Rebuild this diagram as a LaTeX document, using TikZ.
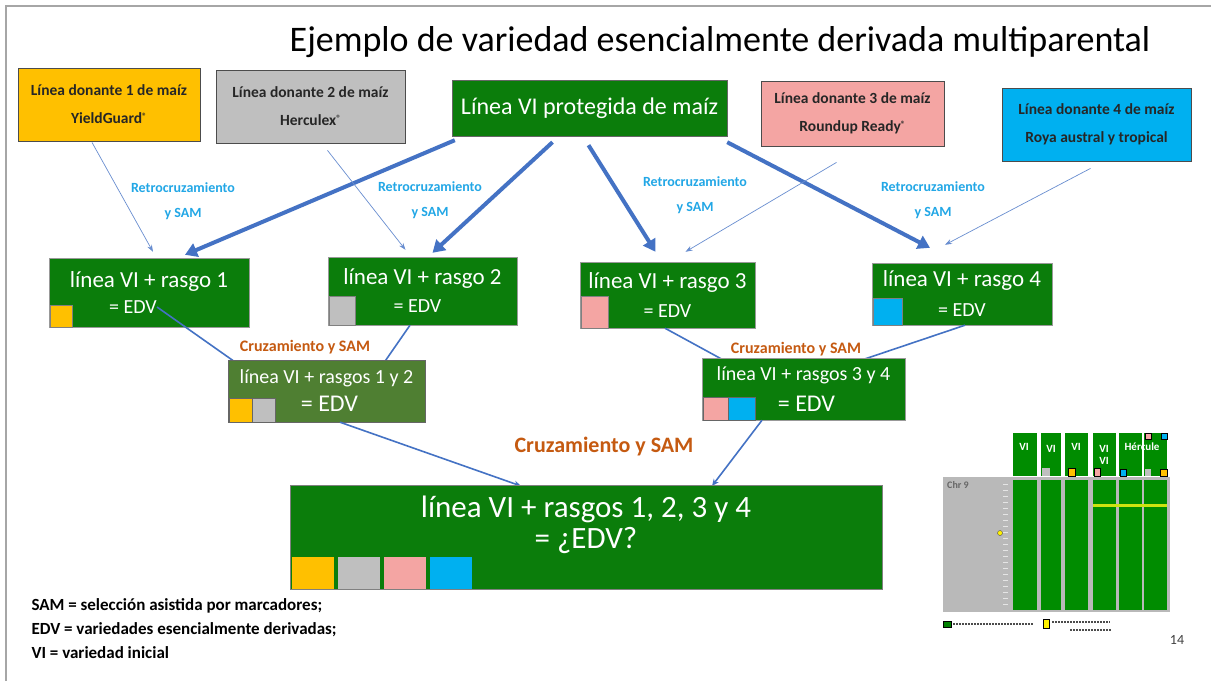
\documentclass[tikz,border=0pt]{standalone}
\usepackage{fontspec}
\setmainfont{Carlito}
\usetikzlibrary{arrows.meta}

\definecolor{donoryellow}{HTML}{FFC000}
\definecolor{donorgray}{HTML}{BFBFBF}
\definecolor{donorpink}{HTML}{F4A5A3}
\definecolor{donorblue}{HTML}{00B0F0}
\definecolor{vigreen}{HTML}{0B7D0B}
\definecolor{olivegreen}{HTML}{4F7F32}
\definecolor{arrowblue}{HTML}{4472C4}
\definecolor{labelblue}{HTML}{22A7E6}
\definecolor{crossorange}{HTML}{C55A11}

\newcommand{\regmark}{\raisebox{4pt}{\fontsize{9}{9}\selectfont ®}}

\begin{document}
\begin{tikzpicture}[x=1pt,y=-1pt]
\tikzstyle{donor} = [rectangle, draw=black!70, thick, text=black!85, align=center,
font=\bfseries\fontsize{15.5}{28}\selectfont, inner sep=0pt]
\tikzstyle{trait} = [rectangle, draw=black!40, fill=vigreen, text=white, align=center,
inner sep=0pt]
\tikzstyle{whitetext} = [text=white, align=center, inner sep=0pt]
\tikzstyle{big} = [draw=arrowblue, line width=4pt, -{Triangle[length=12pt,width=14pt]}]
\tikzstyle{thin} = [draw=arrowblue!80, line width=0.7pt, -{Stealth[length=7pt,width=5pt]}]
\tikzstyle{cross} = [draw=arrowblue, line width=1.6pt]
\tikzstyle{backlabel} = [text=labelblue, align=center, font=\bfseries\fontsize{14}{25}\selectfont]
\tikzstyle{crosslabel} = [text=crossorange, font=\bfseries\fontsize{16}{18}\selectfont]
\useasboundingbox (0,0) rectangle (1211,681);
\fill[white] (0,0) rectangle (1211,681);
\draw[gray!70, line width=1.5pt] (6,681) -- (6,6) -- (1211,6);

\node (title) at (720,42) {\fontsize{36}{40}\selectfont Ejemplo de variedad esencialmente derivada multiparental};

% row 1: donantes y linea VI
\node[donor, fill=donoryellow, minimum width=182pt, minimum height=73pt] (d1) at (109,104.5)
{Línea donante 1 de maíz\\YieldGuard\regmark};
\node[donor, fill=donorgray, minimum width=189pt, minimum height=73pt] (d2) at (310.5,106.5)
{Línea donante 2 de maíz\\Herculex\regmark};
\node[trait, draw=black!60, minimum width=275pt, minimum height=56pt,
font=\fontsize{24}{26}\selectfont] (vi) at (589.5,108) {Línea VI protegida de maíz};
\node[donor, fill=donorpink, minimum width=183pt, minimum height=65pt] (d3) at (852.5,113.5)
{Línea donante 3 de maíz\\Roundup Ready\regmark};
\node[donor, fill=donorblue, minimum width=189pt, minimum height=73pt] (d4) at (1096.5,124.5)
{Línea donante 4 de maíz\\Roya austral y tropical};

% retrocruzamiento
\node[backlabel] (lbA) at (183,201) {Retrocruzamiento\\y SAM};
\node[backlabel] (lbB) at (430,200) {Retrocruzamiento\\y SAM};
\node[backlabel] (lbC) at (695,195) {Retrocruzamiento\\y SAM};
\node[backlabel] (lbD) at (933,200) {Retrocruzamiento\\y SAM};

% row 2: linea VI + rasgo
\node[trait, minimum width=200pt, minimum height=69pt, font=\fontsize{23}{26}\selectfont] (t1)
at (149,292.5) {línea VI + rasgo 1\\\fontsize{20}{20}\selectfont\hspace*{-32pt}= EDV};
\node[trait, minimum width=189pt, minimum height=68pt, font=\fontsize{23}{28}\selectfont] (t2)
at (422.5,291) {línea VI + rasgo 2\\\fontsize{20}{20}\selectfont\hspace*{-10pt}= EDV};
\node[trait, minimum width=175pt, minimum height=66pt, font=\fontsize{23}{29}\selectfont] (t3)
at (667.5,295) {línea VI + rasgo 3\\\fontsize{20}{20}\selectfont = EDV};
\node[trait, minimum width=180pt, minimum height=62pt, font=\fontsize{23}{30}\selectfont] (t4)
at (962,294) {línea VI + rasgo 4\\\fontsize{20}{20}\selectfont = EDV};
\fill[donoryellow, draw=black!50] ([shift={(1,0)}]t1.south west) rectangle +(22,-22);
\fill[donorgray, draw=black!50] ([shift={(1,0)}]t2.south west) rectangle +(26,-29);
\fill[donorpink, draw=black!50] ([shift={(1,0)}]t3.south west) rectangle +(27,-32);
\fill[donorblue, draw=black!50] ([shift={(1,0)}]t4.south west) rectangle +(29,-27);

% flechas de retrocruzamiento
\draw[big] ([shift={(3,4)}]vi.south west) -- ([shift={(36,-3)}]t1.north);
\draw[big] ([shift={(-37,6)}]vi.south) -- ([shift={(10,-4)}]t2.north);
\draw[big] ([shift={(-1,9)}]vi.south) -- ([shift={(-12,-10)}]t3.north);
\draw[big] ([shift={(0,6)}]vi.south east) -- ([shift={(-32,-15)}]t4.north);
\draw[thin] ([shift={(-17,1)}]d1.south) -- ([shift={(4,-6)}]t1.north);
\draw[thin] ([shift={(17,7)}]d2.south) -- ([shift={(-17,-7)}]t2.north);
\draw[thin] ([shift={(-16,16)}]d3.south) -- ([shift={(18,-10)}]t3.north);
\draw[thin] ([shift={(-6,7)}]d4.south) -- ([shift={(-17,-18)}]t4.north);

% cruzamientos
\draw[cross] ([shift={(8,14.5)}]t1.center) -- (262,381);
\draw[cross] ([shift={(-12.5,0)}]t2.south) -- (372,380);
\draw[cross] ([shift={(-2.5,0)}]t3.south) -- (760,380);
\draw[cross] ([shift={(3,0)}]t4.south) -- (838,368);
\node[crosslabel] (lbE) at (305,347) {Cruzamiento y SAM};
\node[crosslabel] (lbF) at (796,349) {Cruzamiento y SAM};

% row 3: rasgos combinados
\node[trait, fill=olivegreen, draw=black!60, minimum width=197pt, minimum height=62pt,
font=\fontsize{20}{28}\selectfont] (m12) at (326.5,391)
{línea VI + rasgos 1 y 2\\\fontsize{24}{24}\selectfont\hspace*{6pt}= EDV};
\node[trait, minimum width=203pt, minimum height=62pt,
font=\fontsize{20}{31}\selectfont] (m34) at (803.5,389)
{línea VI + rasgos 3 y 4\\\fontsize{24}{24}\selectfont\hspace*{6pt}= EDV};
\fill[donoryellow, draw=black!60] ([shift={(1,0)}]m12.south west) rectangle +(23,-24);
\fill[donorgray, draw=black!60] ([shift={(24,0)}]m12.south west) rectangle +(23,-24);
\fill[donorpink, draw=black!60] ([shift={(1,0)}]m34.south west) rectangle +(25,-23);
\fill[donorblue, draw=black!60] ([shift={(26,0)}]m34.south west) rectangle +(27,-23);

\draw[cross, -{Stealth[length=7pt,width=6pt]}] ([shift={(13.5,0)}]m12.south) -- (521,486);
\draw[cross, -{Stealth[length=7pt,width=6pt]}] ([shift={(-41.5,0)}]m34.south) -- (712,486);
\node[crosslabel, font=\bfseries\fontsize{22}{24}\selectfont] (lbG) at (604,447) {Cruzamiento y SAM};

% row 4: resultado
\node[trait, draw=black!50, minimum width=592pt, minimum height=104pt] (fin) at (586,537) {};
\node[whitetext, font=\fontsize{31}{31}\selectfont] (fintxt) at ([shift={(0,-12)}]fin.center)
{línea VI + rasgos 1, 2, 3 y 4\\= ¿EDV?};
\foreach \c [count=\i from 0] in {donoryellow,donorgray,donorpink,donorblue}
  \fill[\c] ([shift={(2+46*\i,0)}]fin.south west) rectangle +(42,-32);

% leyenda
\node[anchor=west, align=left, font=\bfseries\fontsize{17}{24}\selectfont] (notes) at (28,629)
{SAM = selección asistida por marcadores;\\EDV = variedades esencialmente derivadas;\\VI = variedad inicial};

% mapa del cromosoma
\fill[gray!55] (943,477) rectangle (1170,612);
\foreach \xa/\xb in {1013/1037,1041/1061,1065/1088,1093/1116,1119/1142,1144/1167} {
  \fill[green!55!black] (\xa,433) rectangle (\xb,476);
  \fill[green!55!black] (\xa,480) rectangle (\xb,610);
}
\foreach \ty in {484,490,...,604} \draw[white!90!black, line width=0.4pt] (1003,\ty) -- (1008,\ty);
\fill[yellow!80!green] (1093,504) rectangle (1167,507);
\node[text=white, font=\bfseries\fontsize{11}{11}\selectfont] (c1) at (1024,447) {VI};
\node[text=white, font=\bfseries\fontsize{11}{11}\selectfont] (c2) at (1051,449) {VI};
\node[text=white, font=\bfseries\fontsize{11}{11}\selectfont] (c3) at (1076,447) {VI};
\node[text=white, font=\bfseries\fontsize{11}{12}\selectfont, align=center] (c4) at (1104,455) {VI\\VI};
\node[text=white, font=\bfseries\fontsize{11}{11}\selectfont, anchor=west] (c5) at (1121,447) {Hércule};
\fill[donorgray] (1042,468) rectangle (1050,476);
\fill[donoryellow, draw=black] (1068,468) rectangle (1075,476);
\fill[donorpink, draw=black] (1094,468) rectangle (1100,476);
\fill[donorblue, draw=black] (1120,469) rectangle (1126,476);
\fill[donorpink, draw=black] (1145,433) rectangle (1151,439);
\fill[donorblue, draw=black] (1161,433) rectangle (1167,439);
\fill[donorgray] (1145,469) rectangle (1151,476);
\fill[donoryellow, draw=black] (1160,469) rectangle (1167,476);
\node[text=black!60, font=\bfseries\fontsize{10}{10}\selectfont] (chr) at (958,485) {Chr 9};
\fill[yellow, draw=black!70] (1000,533) circle (2.5);
\fill[green!50!black, draw=black] (943,621) rectangle (951,627);
\draw[black!70, line width=1.5pt, dash pattern=on 2pt off 1pt] (953,624) -- (1033,624);
\fill[yellow, draw=black] (1043,619) rectangle (1049,628);
\draw[black!70, line width=1.5pt, dash pattern=on 2pt off 1pt] (1052,622) -- (1110,622);
\draw[black!70, line width=1.5pt, dash pattern=on 2pt off 1pt] (1070,630) -- (1112,630);
\node[text=black!75, font=\fontsize{14}{14}\selectfont] (page) at (1177,640) {14};
\end{tikzpicture}
\end{document}
